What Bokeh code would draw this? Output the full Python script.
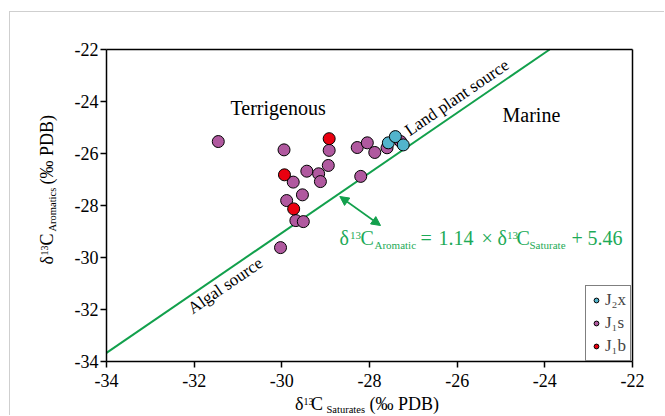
import math
from bokeh.plotting import figure
from bokeh.models import Label, Arrow, NormalHead, Legend, LegendItem, FixedTicker, LinearAxis
from bokeh.embed import file_html
from bokeh.resources import INLINE

# ---------------- data ----------------
j1s_x = [-31.45, -29.95, -28.92, -28.94, -29.74, -29.43, -29.16, -29.12, -29.53,
         -29.89, -29.68, -29.51, -30.03, -28.20, -28.28, -28.05, -27.88, -27.60, -27.29]
j1s_y = [-25.54, -25.86, -25.88, -26.46, -27.10, -26.68, -26.78, -27.08, -27.59,
         -27.81, -28.58, -28.62, -29.62, -26.88, -25.77, -25.59, -25.96, -25.78, -25.54]
j2x_x = [-27.57, -27.41, -27.23]
j2x_y = [-25.59, -25.35, -25.67]
j1b_x = [-28.92, -29.94, -29.73]
j1b_y = [-25.43, -26.82, -28.13]

line_x = [-34.0, -23.89]
line_y = [-33.67, -22.0]

axis_min, axis_max = -34, -22
ticks = [-34, -32, -30, -28, -26, -24, -22]
tick_labels = ["-34", "-32", "-30", "-28", "-26", "-24", "-22"]
series_labels = ["J\u2082x", "J\u2081s", "J\u2081b"]

SERIF = "Liberation Serif"
GREEN_LINE = "#12a04c"
GREEN_TEXT = "#1daa57"
C_J2X = "#52b4cc"
C_J1S = "#b0599f"
C_J1B = "#ea0010"

# page-pixel -> data helpers (used only to place annotations / the frame extent)
def ax(px):
    return -34 + (px - 106) * 12 / 526

def ay(py):
    return -22 - (py - 49) * 12 / 312

p = figure(width=655, height=404,
           x_range=(ax(10), ax(665)), y_range=(ay(416), ay(12)),
           output_backend="svg", toolbar_location=None, min_border=0)
p.margin = (11, 0, 0, 9)
p.styles = {"border-top": "1px solid #cfcfcf", "border-left": "1px solid #cfcfcf"}

p.xgrid.visible = False
p.ygrid.visible = False
p.background_fill_color = "white"
p.border_fill_color = "white"
p.outline_line_color = None

def style_axis(a, with_ticks=True):
    a.fixed_location = axis_min if with_ticks else axis_max
    a.bounds = (axis_min, axis_max)
    a.axis_line_color = "black"
    a.axis_line_width = 1.5
    a.minor_tick_line_color = None
    if with_ticks:
        a.ticker = FixedTicker(ticks=ticks)
        a.major_label_overrides = {t: l for t, l in zip(ticks, tick_labels)}
        a.major_tick_line_color = "black"
        a.major_tick_line_width = 1.5
        a.major_tick_out = 6
        a.major_tick_in = 0
        a.major_label_text_font = SERIF
        a.major_label_text_font_size = "18px"
        a.major_label_text_color = "black"
    else:
        a.ticker = FixedTicker(ticks=[])
        a.major_tick_line_color = None
        a.major_label_text_color = None

style_axis(p.xaxis[0])
style_axis(p.yaxis[0])
p.xaxis[0].major_label_standoff = 6
p.yaxis[0].major_label_standoff = 2

top_axis = LinearAxis()
style_axis(top_axis, with_ticks=False)
p.add_layout(top_axis, "above")
right_axis = LinearAxis()
style_axis(right_axis, with_ticks=False)
p.add_layout(right_axis, "right")

# regression line
p.line(line_x, line_y, line_color=GREEN_LINE, line_width=2)

# points
r_j1s = p.scatter(j1s_x, j1s_y, size=12, fill_color=C_J1S, line_color="black", line_width=1)
r_j2x = p.scatter(j2x_x, j2x_y, size=12, fill_color=C_J2X, line_color="black", line_width=1)
r_j1b = p.scatter(j1b_x, j1b_y, size=12, fill_color=C_J1B, line_color="black", line_width=1)

legend = Legend(items=[LegendItem(label=series_labels[0], renderers=[r_j2x]),
                       LegendItem(label=series_labels[1], renderers=[r_j1s]),
                       LegendItem(label=series_labels[2], renderers=[r_j1b])],
                location=(575, 55), margin=0, padding=4, spacing=3,
                glyph_width=12, glyph_height=20, label_height=20, label_standoff=3,
                label_text_font=SERIF, label_text_font_size="17px",
                border_line_color="black", border_line_width=1.2,
                background_fill_color="white", background_fill_alpha=1.0)
p.add_layout(legend)

# arrow
p.add_layout(Arrow(x_start=-28.677, y_start=-27.654, x_end=-27.749, y_end=-28.769,
                   line_color=GREEN_LINE, line_width=1.6,
                   start=NormalHead(size=9, fill_color=GREEN_LINE, line_color=GREEN_LINE),
                   end=NormalHead(size=9, fill_color=GREEN_LINE, line_color=GREEN_LINE)))

# text placement: (px, py) is the wanted baseline-left point in page pixels;
# Bokeh draws the alphabetic baseline ~0.4 em lower, so move the anchor "up" in text frame
def lab(px, py, text, size, color="black", angle=0.0):
    k = 0.4 * size
    px2 = px - k * math.sin(angle)
    py2 = py - k * math.cos(angle)
    p.add_layout(Label(x=ax(px2), y=ay(py2), text=text, text_font=SERIF,
                       text_font_size=f"{size}px", text_color=color,
                       text_align="left", text_baseline="alphabetic", angle=angle))

lab(230, 115, "Terrigenous", 20)
lab(502, 122, "Marine", 20)
lab(410, 137, "Land plant source", 17, angle=0.600)
lab(193, 315, "Algal source", 17, angle=0.600)

eq = [("\u03b4", 339, 245, 20), ("13", 349.5, 239.5, 11), ("C", 360, 245, 20),
      ("Aromatic", 374, 248.5, 11), ("=", 420, 245, 20), ("1.14", 438, 245, 20),
      ("\u00d7", 481, 245, 20), ("\u03b4", 497, 245, 20), ("13", 506.5, 239.5, 11),
      ("C", 516, 245, 20), ("Saturate", 529, 248.5, 11), ("+", 571, 245, 20),
      ("5.46", 587, 245, 20)]
for t, x, y, s in eq:
    lab(x, y, t, s, color=GREEN_TEXT)

xl = [("\u03b4", 294.5, 410.5, 18), ("13", 303, 404.5, 10), ("C", 310.5, 410.5, 18),
      ("Saturates", 326, 413, 10.5), ("(\u2030 PDB)", 369, 410.5, 18)]
for t, x, y, s in xl:
    lab(x, y, t, s)

R = math.pi / 2
yl = [("\u03b4", 53.5, 264, 18), ("13", 47.5, 255, 10), ("C", 53.5, 245, 18),
      ("Aromatics", 56, 231, 10.5), ("(\u2030 PDB)", 53.5, 184, 18)]
for t, x, y, s in yl:
    lab(x, y, t, s, angle=R)

open("out.html", "w").write(file_html(p, INLINE))
